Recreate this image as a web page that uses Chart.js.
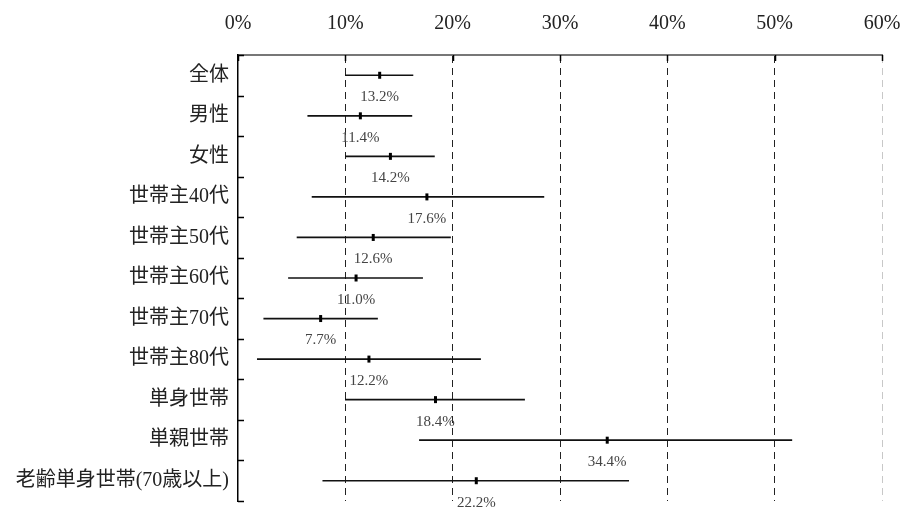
<!DOCTYPE html>
<html>
<head>
<meta charset="utf-8">
<script src="https://cdn.jsdelivr.net/npm/chart.js@4.4.0/dist/chart.umd.min.js"></script>
<style>
html,body{margin:0;padding:0;background:#fff;}
#wrap{width:901px;height:508px;position:relative;}
</style>
</head>
<body>
<div id="wrap"><canvas id="c" width="901" height="508"></canvas></div>
<script>
const categories = ['全体','男性','女性','世帯主40代','世帯主50代','世帯主60代','世帯主70代','世帯主80代','単身世帯','単親世帯','老齢単身世帯(70歳以上)'];
const values = [13.2, 11.4, 14.2, 17.6, 12.6, 11.0, 7.7, 12.2, 18.4, 34.4, 22.2];
const lowerBounds = [10.0, 6.5, 10.0, 6.9, 5.5, 4.7, 2.4, 1.8, 10.0, 16.9, 7.9];
const upperBounds = [16.3, 16.2, 18.3, 28.5, 19.8, 17.2, 13.0, 22.6, 26.7, 51.6, 36.4];
const xTicks = [0, 10, 20, 30, 40, 50, 60];

const FONT = '"Liberation Serif", "Noto Sans CJK JP", serif';

const extras = {
  id: 'extras',
  afterDatasetsDraw(chart) {
    const ctx = chart.ctx;
    const xs = chart.scales.x, ys = chart.scales.y;
    const area = chart.chartArea;
    ctx.save();
    ctx.strokeStyle = '#000';
    ctx.lineWidth = 1.5;
    const n = categories.length;
    const step = (ys.getPixelForValue(n - 1) - ys.getPixelForValue(0)) / (n - 1);
    for (let i = 0; i <= n; i++) {
      const y = Math.round(ys.getPixelForValue(0) - step / 2 + i * step) + 0.5;
      ctx.beginPath();
      ctx.moveTo(area.left, y);
      ctx.lineTo(area.left + 6, y);
      ctx.stroke();
    }
    xTicks.forEach(v => {
      const x = Math.round(xs.getPixelForValue(v)) + 0.5;
      ctx.beginPath();
      ctx.moveTo(x, area.top);
      ctx.lineTo(x, area.top + 6);
      ctx.stroke();
    });
    ctx.fillStyle = '#444';
    ctx.font = '15px ' + FONT;
    ctx.textAlign = 'center';
    ctx.textBaseline = 'middle';
    values.forEach((v, i) => {
      const x = xs.getPixelForValue(v);
      const y = ys.getPixelForValue(i) + 22;
      ctx.fillText(v.toFixed(1) + '%', x, y);
    });
    ctx.restore();
  }
};

new Chart(document.getElementById('c'), {
  type: 'bar',
  data: {
    labels: categories,
    datasets: [
      {
        type: 'bar',
        data: categories.map((c, i) => [lowerBounds[i], upperBounds[i]]),
        backgroundColor: '#111',
        borderWidth: 0,
        barThickness: 1,
        order: 2
      },
      {
        type: 'line',
        data: categories.map((c, i) => ({x: values[i], y: c})),
        showLine: false,
        pointStyle: 'line',
        rotation: 90,
        radius: 3.5,
        pointBorderWidth: 3,
        borderColor: '#000',
        backgroundColor: '#000',
        order: 1
      }
    ]
  },
  options: {
    indexAxis: 'y',
    responsive: false,
    animation: false,
    devicePixelRatio: 1,
    layout: { padding: { left: 0, right: 19, top: 0, bottom: 6 } },
    plugins: { legend: { display: false }, tooltip: { enabled: false } },
    scales: {
      x: {
        type: 'linear',
        position: 'top',
        min: 0,
        max: 60,
        afterBuildTicks(scale) { scale.ticks = xTicks.map(v => ({value: v})); },
        afterFit(scale) { scale.height = 55; scale.paddingLeft = 0; scale.paddingRight = 0; },
        ticks: {
          callback: v => v + '%',
          color: '#222',
          font: { family: FONT, size: 20 },
          padding: 19,
          maxRotation: 0
        },
        grid: {
          drawTicks: false,
          tickLength: 0,
          lineWidth: 1,
          color: ctx => {
            const v = ctx.tick ? ctx.tick.value : 0;
            if (v === 0) return 'rgba(0,0,0,0)';
            if (v === 60) return '#c8c8c8';
            return '#222';
          }
        },
        border: { display: true, color: '#777', width: 2, dash: [7, 5] }
      },
      y: {
        type: 'category',
        offset: true,
        afterFit(scale) { scale.width = 238; scale.paddingTop = 0; scale.paddingBottom = 0; },
        ticks: {
          color: '#222',
          font: { family: FONT, size: 20 },
          padding: 9
        },
        grid: { display: false, drawTicks: false },
        border: { display: true, color: '#000', width: 1.5 }
      }
    }
  },
  plugins: [extras]
});
</script>
</body>
</html>
